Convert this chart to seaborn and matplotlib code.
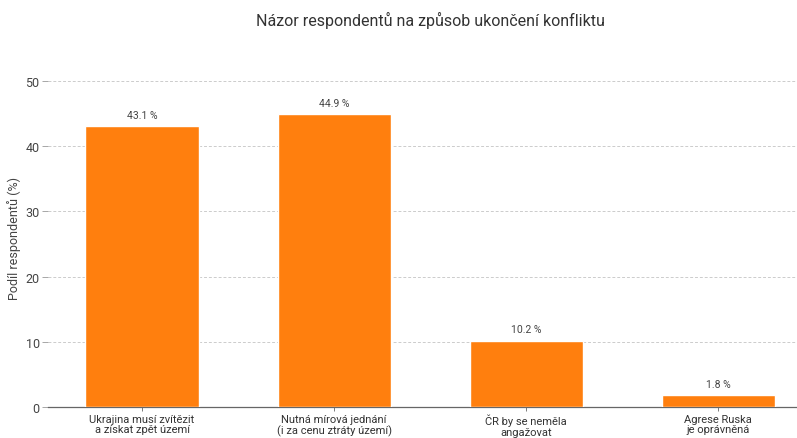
import matplotlib
matplotlib.use('Agg')
import matplotlib.pyplot as plt
import seaborn as sns
import pandas as pd

# data
categories = ['Ukrajina musí zvítězit\na získat zpět území',
              'Nutná mírová jednání\n(i za cenu ztráty území)',
              'ČR by se neměla\nangažovat',
              'Agrese Ruska\nje oprávněná']
values = [43.1, 44.9, 10.2, 1.8]
yticks = [0, 10, 20, 30, 40, 50]

df = pd.DataFrame({'kategorie': categories, 'podil': values})

sns.set_theme(style='white')
plt.rcParams['font.family'] = ['Roboto', 'DejaVu Sans']

fig = plt.figure(figsize=(7.97, 4.39), dpi=100)
ax = fig.add_axes([48 / 797, 31 / 439, 749 / 797, 339 / 439])

sns.barplot(data=df, x='kategorie', y='podil', color='#ff7f0e',
            saturation=1, width=0.59, ax=ax, zorder=3)

ax.set_xlim(-0.49, 3.41)
ax.set_ylim(0, 52)
ax.set_yticks(yticks)
ax.yaxis.grid(True, linestyle=(0, (3, 2)), color='#cccccc', linewidth=0.7, zorder=0)
ax.xaxis.grid(False)

for s in ['top', 'right', 'left']:
    ax.spines[s].set_visible(False)
ax.spines['bottom'].set_color('#666666')
ax.spines['bottom'].set_linewidth(0.9)

ax.tick_params(axis='y', length=4, width=0.6, color='#999999', labelsize=9,
               labelcolor='#444444', pad=2, left=True)
ax.tick_params(axis='x', length=3, width=0.6, color='#666666', labelsize=8,
               labelcolor='#333333', pad=2, bottom=True)
for lbl in ax.get_xticklabels():
    lbl.set_linespacing(1.05)

ax.set_xlabel('')
ax.set_ylabel('Podíl respondentů (%)', fontsize=9, color='#444444', labelpad=3)

for p, v in zip(ax.patches, values):
    ax.text(p.get_x() + p.get_width() / 2, v + 1.0, f'{v} %',
            ha='center', va='bottom', fontsize=7.5, color='#444444')

fig.text(430 / 797, 1 - 20 / 439, 'Názor respondentů na způsob ukončení konfliktu',
         ha='center', va='center', fontsize=11.5, color='#333333')

plt.savefig('out.png', dpi=100)
plt.close()
